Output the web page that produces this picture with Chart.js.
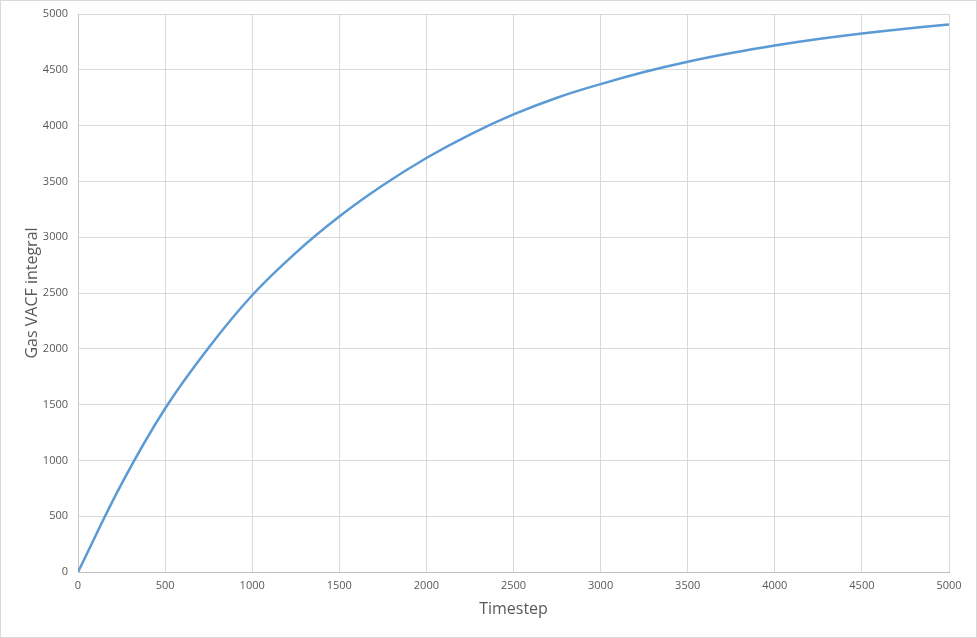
<!DOCTYPE html>
<html>
<head>
<meta charset="utf-8">
<title>Gas VACF integral</title>
<script src="https://cdn.jsdelivr.net/npm/chart.js@4/dist/chart.umd.min.js"></script>
<style>
    html, body { margin: 0; padding: 0; background: #fff; }
    #wrap { position: relative; width: 977px; height: 638px; }
</style>
</head>
<body>
<div id="wrap"><canvas id="vacf-chart" width="977" height="638"></canvas></div>
<script>
// Timestep values (x)
const timesteps = [0, 250, 500, 750, 1000, 1250, 1500, 1750, 2000, 2250, 2500,
    2750, 3000, 3250, 3500, 3750, 4000, 4250, 4500, 4750, 5000];

// Gas VACF integral (y) at each timestep
const vacfIntegral = [0, 790, 1465, 2010, 2480, 2860, 3185, 3465, 3710, 3920, 4100,
    4250, 4372, 4480, 4572, 4650, 4717, 4775, 4825, 4868, 4905];

// Axis ranges and titles
const xRange = { min: 0, max: 5000, step: 500 };
const yRange = { min: 0, max: 5000, step: 500 };
const xTitle = 'Timestep';
const yTitle = 'Gas VACF integral';

const textColor = '#595959';
const gridColor = '#d9d9d9';

// Light frame round the whole chart, like the spreadsheet chart area
const framePlugin = {
    id: 'frame',
    afterDraw(chart) {
        const ctx = chart.ctx;
        ctx.save();
        ctx.strokeStyle = '#d9d9d9';
        ctx.lineWidth = 1;
        ctx.strokeRect(0.5, 0.5, chart.width - 1, chart.height - 1);
        ctx.restore();
    }
};

// plain numbers, no thousands separator
const plainTick = v => String(v);

function initChart() {
    const ctx = document.getElementById('vacf-chart').getContext('2d');
    new Chart(ctx, {
        type: 'line',
        data: {
            datasets: [{
                label: yTitle,
                data: timesteps.map((t, i) => ({ x: t, y: vacfIntegral[i] })),
                borderColor: '#5b9bd5',
                borderWidth: 2.5,
                pointRadius: 0,
                tension: 0.4,
                fill: false
            }]
        },
        options: {
            responsive: false,
            animation: false,
            layout: { padding: { left: 0, right: 28, top: 14, bottom: 0 } },
            plugins: {
                legend: { display: false },
                tooltip: { enabled: false }
            },
            scales: {
                x: {
                    type: 'linear',
                    min: xRange.min,
                    max: xRange.max,
                    afterFit: s => { s.height = 66; s.paddingLeft = 0; s.paddingRight = 0; },
                    ticks: {
                        stepSize: xRange.step,
                        padding: 7,
                        color: textColor,
                        font: { family: 'Open Sans', size: 11 },
                        callback: plainTick
                    },
                    grid: { color: gridColor, drawTicks: false },
                    border: { color: '#bfbfbf' },
                    title: {
                        display: true,
                        text: xTitle,
                        color: textColor,
                        font: { family: 'Open Sans', size: 16 },
                        padding: { top: 0, bottom: 19 }
                    }
                },
                y: {
                    min: yRange.min,
                    max: yRange.max,
                    afterFit: s => { s.width = 78; s.paddingTop = 0; s.paddingBottom = 0; },
                    ticks: {
                        stepSize: yRange.step,
                        padding: 10,
                        color: textColor,
                        font: { family: 'Open Sans', size: 11 },
                        callback: plainTick
                    },
                    grid: { color: gridColor, drawTicks: false },
                    border: { color: '#c8c8c8' },
                    title: {
                        display: true,
                        text: yTitle,
                        color: textColor,
                        font: { family: 'Open Sans', size: 16 },
                        padding: { top: 23, bottom: 0 }
                    }
                }
            }
        },
        plugins: [framePlugin]
    });
}

window.addEventListener('load', () => {
    initChart();
});
</script>
</body>
</html>
